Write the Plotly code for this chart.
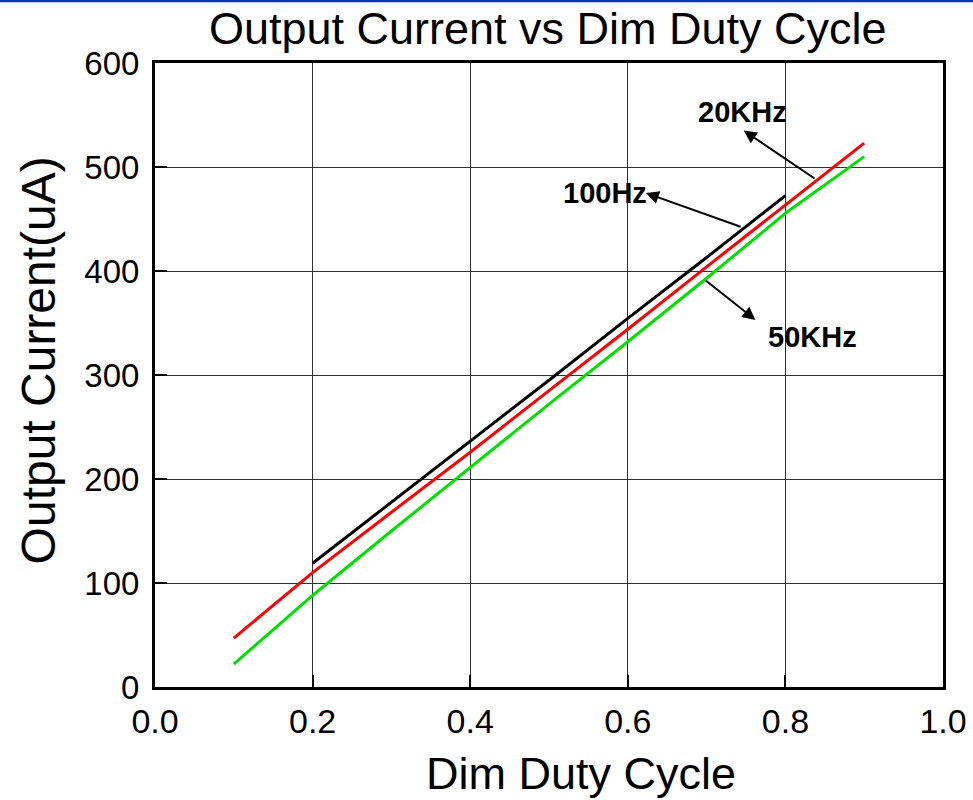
import plotly.graph_objects as go

duty_100hz = [0.2, 0.3, 0.4, 0.5, 0.6, 0.7, 0.8]
cur_100hz = [119, 177.5, 236, 295, 354.5, 413, 472.5]

duty_20khz = [0.1, 0.2, 0.3, 0.4, 0.5, 0.6, 0.7, 0.8, 0.9]
cur_20khz = [47, 110, 168, 225.7, 285, 344, 404, 463.5, 523]

duty_50khz = [0.1, 0.2, 0.3, 0.4, 0.5, 0.6, 0.7, 0.8, 0.9]
cur_50khz = [22, 88, 150, 211, 272, 332, 393, 455.5, 510]

FONT = "Liberation Sans, Arial, sans-serif"

fig = go.Figure()
fig.add_trace(go.Scatter(x=duty_100hz, y=cur_100hz, mode="lines", name="100Hz",
                         line=dict(color="#000000", width=3)))
fig.add_trace(go.Scatter(x=duty_20khz, y=cur_20khz, mode="lines", name="20KHz",
                         line=dict(color="#FF0000", width=3)))
fig.add_trace(go.Scatter(x=duty_50khz, y=cur_50khz, mode="lines", name="50KHz",
                         line=dict(color="#00E000", width=3)))

axis_common = dict(
    showline=True, linecolor="black", linewidth=3, mirror=True,
    ticks="inside", ticklen=12, tickwidth=2, tickcolor="black",
    showgrid=True, gridcolor="#303030", gridwidth=1,
    zeroline=False, automargin=False,
)

fig.update_xaxes(range=[0, 1], dtick=0.2, tickformat=".1f", ticklabelstandoff=2,
                 tickfont=dict(family=FONT, size=34, color="black"), **axis_common)
fig.update_yaxes(range=[0, 600], dtick=100, ticklabelstandoff=6,
                 tickfont=dict(family=FONT, size=33, color="black"), **axis_common)

# axis titles
fig.add_annotation(x=0.5406, y=-0.138, xref="paper", yref="paper", text="Dim Duty Cycle",
                   showarrow=False, xanchor="center", yanchor="middle",
                   font=dict(family=FONT, size=45, color="black"))
fig.add_annotation(x=-0.148, y=0.524, xref="paper", yref="paper", text="Output Current(uA)",
                   showarrow=False, xanchor="center", yanchor="middle", textangle=-90,
                   font=dict(family=FONT, size=48, color="black"))

ann_font = dict(family=FONT, size=29, color="black")

def arrow(xh, yh, xt, yt):
    # head at (xh, yh), tail at (xt, yt) in data coords
    fig.add_annotation(x=xh, y=yh, ax=xt, ay=yt, xref="x", yref="y", axref="x", ayref="y",
                       text="", showarrow=True, arrowhead=2, arrowsize=1.3, arrowwidth=2,
                       arrowcolor="black")

arrow(0.747, 535, 0.839, 488)   # 20KHz
arrow(0.623, 475, 0.745, 442)   # 100Hz
arrow(0.762, 353, 0.697, 392)   # 50KHz

fig.add_annotation(x=0.745, y=553, xref="x", yref="y", text="<b>20KHz</b>", showarrow=False, font=ann_font)
fig.add_annotation(x=0.571, y=475, xref="x", yref="y", text="<b>100Hz</b>", showarrow=False, font=ann_font)
fig.add_annotation(x=0.834, y=337, xref="x", yref="y", text="<b>50KHz</b>", showarrow=False, font=ann_font)

fig.add_shape(type="line", xref="paper", yref="paper", x0=-0.3, x1=1.3, y0=1.0993, y1=1.0993,
              line=dict(color="#0035C8", width=2.5))

fig.update_layout(
    width=973, height=800,
    margin=dict(l=155, r=30, t=63, b=113, autoexpand=False),
    paper_bgcolor="white", plot_bgcolor="white",
    showlegend=False,
    title=dict(text="Output Current vs Dim Duty Cycle", x=0.563, xanchor="center",
               y=0.965, yanchor="middle", font=dict(family=FONT, size=45, color="black"),
               automargin=False),
)

fig.write_html("out.html", config={"displayModeBar": False},
               post_script="document.body.style.margin='0';document.body.style.padding='0';")
